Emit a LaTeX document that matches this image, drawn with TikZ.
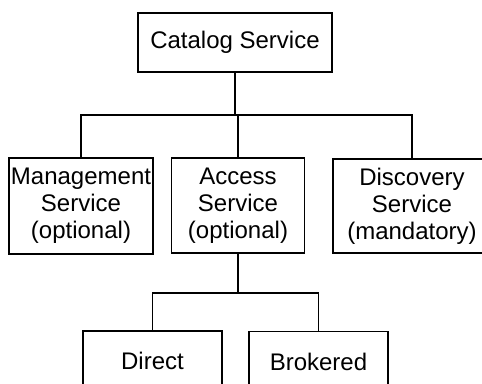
\documentclass[tikz,border=0pt]{standalone}
\usepackage{fontspec}
\setmainfont{Liberation Sans}
\begin{document}
\begin{tikzpicture}[x=1pt,y=-1pt,
  box/.style={draw,line width=1.1pt,rectangle,inner sep=0pt,align=center,
    font=\fontsize{24}{27}\selectfont},
  conn/.style={line width=1.1pt}]
\useasboundingbox (0,0) rectangle (482,383);
\clip (0,0) rectangle (482,383);
\fill[white] (0,0) rectangle (482,383);
\node[box,minimum width=194pt,minimum height=59pt] (cat) at (235,42.5) {Catalog Service};
\node[box,minimum width=144pt,minimum height=96pt] (mgmt) at (81,206) {Management\\Service\\(optional)};
\node[box,minimum width=133pt,minimum height=95pt] (acc) at (238,205.5) {Access\\Service\\(optional)};
\node[box,minimum width=158pt,minimum height=94pt] (disc) at (412,206) {Discovery\\Service\\(mandatory)};
\node[box,minimum width=139pt,minimum height=60pt] (dir) at (152.5,361) {Direct};
\node[box,minimum width=139pt,minimum height=60pt] (brk) at (318.5,361.5) {Brokered};
\coordinate (bus1) at (0,115);
\coordinate (bus2) at (0,293);
\draw[conn] (cat.south) -- (cat.south |- bus1);
\draw[conn] (mgmt.north) -- (mgmt.north |- bus1) -- (disc.north |- bus1) -- (disc.north);
\draw[conn] (acc.north) -- (acc.north |- bus1);
\draw[conn] (acc.south) -- (acc.south |- bus2);
\draw[conn] (dir.north) -- (dir.north |- bus2) -- (brk.north |- bus2) -- (brk.north);
\end{tikzpicture}
\end{document}
